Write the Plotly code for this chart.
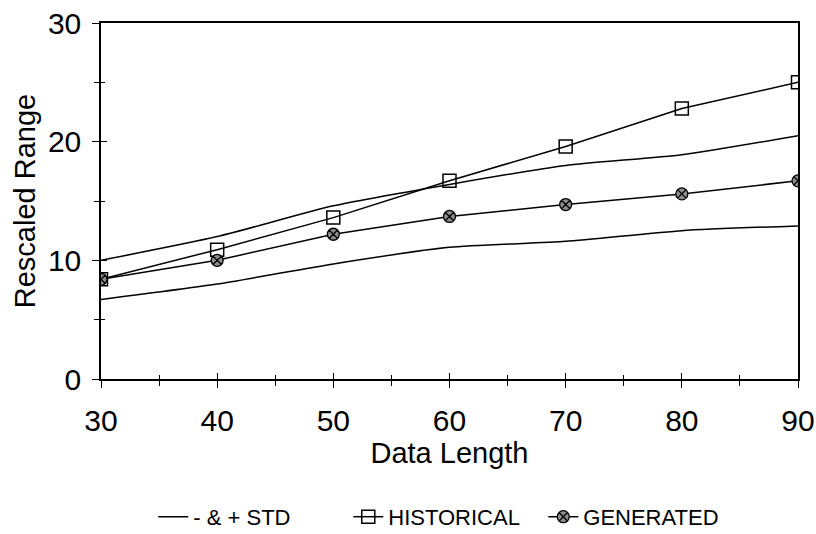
import plotly.graph_objects as go

# Rescaled range versus data length
data_length = [30, 40, 50, 60, 70, 80, 90]
historical = [8.4, 10.9, 13.6, 16.7, 19.6, 22.8, 25.0]
generated = [8.4, 10.0, 12.2, 13.7, 14.7, 15.6, 16.7]
std_upper = [10.0, 12.0, 14.6, 16.4, 18.0, 18.9, 20.5]
std_lower = [6.7, 8.0, 9.7, 11.1, 11.6, 12.5, 12.9]

x_ticks = [30, 40, 50, 60, 70, 80, 90]
y_ticks = [0, 10, 20, 30]

FONT = "Liberation Sans, Arial, sans-serif"
LINE = dict(color="black", width=1.5)

fig = go.Figure()

# -/+ STD band edges (one legend entry for both)
fig.add_trace(go.Scatter(
    x=data_length, y=std_upper, mode="lines", name="- & + STD",
    line=dict(color="black", width=1.5, shape="spline", smoothing=0.6),
    legendgroup="std",
))
fig.add_trace(go.Scatter(
    x=data_length, y=std_lower, mode="lines", name="- & + STD",
    line=dict(color="black", width=1.5, shape="spline", smoothing=0.6),
    legendgroup="std", showlegend=False,
))
fig.add_trace(go.Scatter(
    x=data_length, y=historical, mode="lines+markers", name="HISTORICAL",
    line=LINE,
    marker=dict(symbol="square-open", size=13, color="black",
                line=dict(color="black", width=1.5)),
))
fig.add_trace(go.Scatter(
    x=data_length, y=generated, mode="lines+markers", name="GENERATED",
    line=LINE,
    marker=dict(symbol="circle-x", size=12, color="#8c8c8c",
                line=dict(color="black", width=1.3)),
))
# carrier trace for the inward tick marks
fig.add_trace(go.Scatter(
    x=data_length, y=historical, xaxis="x2", yaxis="y2", mode="none",
    showlegend=False, hoverinfo="skip",
))

axis_common = dict(
    showgrid=False, zeroline=False, showline=True, linecolor="black",
    linewidth=1.5, tickcolor="black", tickwidth=1.2, automargin=False,
)

fig.update_layout(
    width=816, height=534,
    margin=dict(l=101, r=18, t=23, b=155, autoexpand=False),
    paper_bgcolor="white", plot_bgcolor="white",
    font=dict(family=FONT, color="black"),
    showlegend=True,
    legend=dict(
        orientation="h", x=0.075, xanchor="left",
        yref="container", y=0.032, yanchor="middle",
        font=dict(size=22, family=FONT), itemwidth=30, tracegroupgap=0,
        entrywidth=150, entrywidthmode="pixels",
    ),
    xaxis=dict(
        **axis_common, range=[30, 90], tickvals=x_ticks,
        ticks="outside", ticklen=7, mirror=True,
        tickfont=dict(size=30), ticklabelstandoff=7,
        minor=dict(dtick=5, tick0=30, ticks="outside", ticklen=5,
                   tickcolor="black", tickwidth=1.2),
        title=dict(text="Data Length", font=dict(size=29), standoff=0),
    ),
    yaxis=dict(
        **axis_common, range=[0, 30], tickvals=y_ticks,
        ticks="outside", ticklen=7, mirror=True,
        tickfont=dict(size=30), ticklabelstandoff=5,
        minor=dict(dtick=5, tick0=0, ticks="outside", ticklen=5,
                   tickcolor="black", tickwidth=1.2),
        title=dict(text="Rescaled Range", font=dict(size=29), standoff=4),
    ),
    xaxis2=dict(
        overlaying="x", matches="x", anchor="y2", showgrid=False,
        zeroline=False, showticklabels=False, range=[30, 90],
        tickvals=x_ticks, ticks="inside", ticklen=6, tickcolor="black",
        tickwidth=1.2,
        minor=dict(dtick=5, tick0=30, ticks="inside", ticklen=4,
                   tickcolor="black", tickwidth=1.2),
    ),
    yaxis2=dict(
        overlaying="y", matches="y", anchor="x2", showgrid=False,
        zeroline=False, showticklabels=False, range=[0, 30],
        tickvals=y_ticks, ticks="inside", ticklen=6, tickcolor="black",
        tickwidth=1.2,
        minor=dict(dtick=5, tick0=0, ticks="inside", ticklen=4,
                   tickcolor="black", tickwidth=1.2),
    ),
)

fig.write_html("out.html")
